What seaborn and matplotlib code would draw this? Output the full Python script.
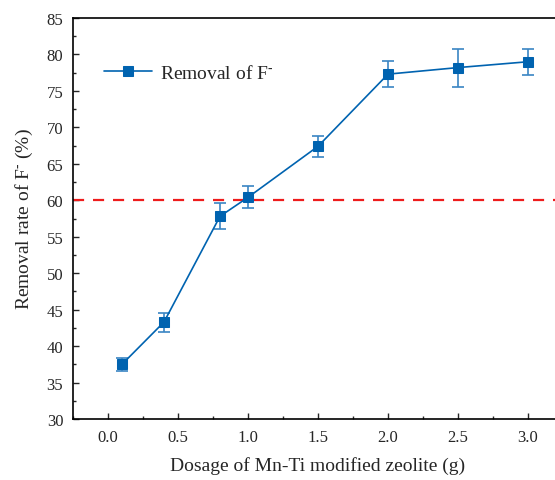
import matplotlib
matplotlib.use("Agg")
import matplotlib.pyplot as plt
import seaborn as sns
import pandas as pd
from matplotlib.ticker import MultipleLocator

dosage = [0.1, 0.4, 0.8, 1.0, 1.5, 2.0, 2.5, 3.0]
removal = [37.5, 43.3, 57.8, 60.4, 67.4, 77.3, 78.2, 79.0]
err = [0.9, 1.3, 1.8, 1.5, 1.4, 1.8, 2.6, 1.8]
threshold = 60
series_label = r"Removal of F$^{\text{-}}$"

sns.set_style("ticks")
plt.rcParams['font.family'] = ['Liberation Serif', 'DejaVu Serif']
plt.rcParams['mathtext.fontset'] = 'custom'
plt.rcParams['mathtext.rm'] = 'Liberation Serif'
plt.rcParams['mathtext.it'] = 'Liberation Serif:italic'

df = pd.DataFrame({"dosage": dosage, "removal": removal, "err": err})

fig = plt.figure(figsize=(5.55, 4.81), dpi=100)
ax = fig.add_axes([73/555, 1-420/481, (563-73)/555, (420-19)/481])

color = "#0063b0"
ax.errorbar(df["dosage"], df["removal"], yerr=df["err"], fmt="none",
            ecolor="#3a85c4", elinewidth=1.2, capsize=4, capthick=1.2, zorder=2)
sns.lineplot(data=df, x="dosage", y="removal", ax=ax, color=color, marker="s",
             markersize=7, markeredgecolor=color, linewidth=1.2, label=series_label, zorder=3)
ax.axhline(threshold, color="#ee1c1c", linestyle=(0, (5, 4)), linewidth=1.6, zorder=1)

ax.set_xlim(-0.25, 3.25)
ax.set_ylim(30, 85)
ax.xaxis.set_major_locator(MultipleLocator(0.5))
ax.xaxis.set_minor_locator(MultipleLocator(0.25))
ax.yaxis.set_major_locator(MultipleLocator(5))
ax.yaxis.set_minor_locator(MultipleLocator(2.5))
ax.xaxis.set_major_formatter(matplotlib.ticker.FormatStrFormatter("%.1f"))
ax.tick_params(which="major", direction="in", length=4, width=1, labelsize=12, pad=7)
ax.tick_params(which="minor", direction="in", length=2.5, width=1)
ax.tick_params(top=False, right=False, which="both")
for s in ax.spines.values():
    s.set_linewidth(1.2)
    s.set_color("black")

ax.set_xlabel("Dosage of Mn-Ti modified zeolite (g)", fontsize=14, labelpad=8)
ax.set_ylabel(r"Removal rate of F$^{\text{-}}$ (%)", fontsize=14, labelpad=8)

ax.legend(loc="upper left", bbox_to_anchor=(0.027, 0.93), frameon=False, fontsize=14,
          handlelength=2.5, handletextpad=0.4)

fig.savefig("out.png", dpi=100)
